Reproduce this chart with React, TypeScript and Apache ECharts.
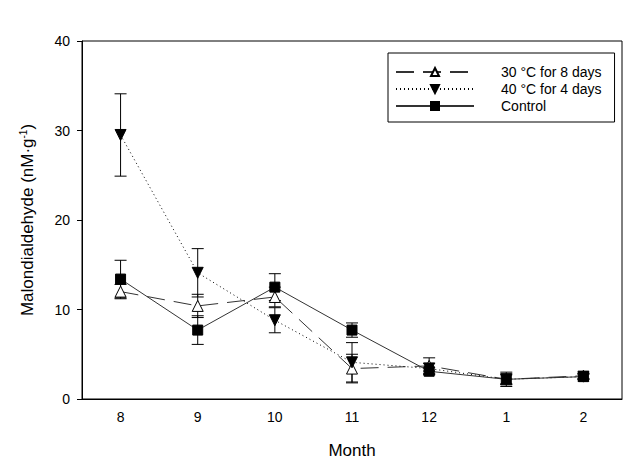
import React, { useEffect, useRef } from "react";
import * as echarts from "echarts";

const months = ["8", "9", "10", "11", "12", "1", "2"];
const t30 = [12.0, 10.4, 11.4, 3.4, 3.7, 2.2, 2.6];
const t30Err = [0.8, 1.3, 1.1, 1.6, 0.9, 0.6, 0.3];
const t40 = [29.5, 14.1, 8.8, 4.1, 3.4, 2.2, 2.5];
const t40Err = [4.6, 2.7, 1.4, 2.2, 0.6, 0.5, 0.3];
const control = [13.4, 7.7, 12.5, 7.7, 3.1, 2.2, 2.5];
const controlErr = [2.1, 1.6, 1.5, 0.8, 0.4, 0.8, 0.3];
const seriesNames = ["30 °C for 8 days", "40 °C for 4 days", "Control"];

const FONT = "Liberation Sans, Arial, sans-serif";

function errSeries(vals: number[], errs: number[]) {
  return {
    type: "custom",
    silent: true,
    z: 1,
    data: vals.map((v, i) => [i, v, errs[i]]),
    renderItem: (params: any, api: any) => {
      const x = api.value(0);
      const v = api.value(1);
      const e = api.value(2);
      const hi = api.coord([x, v + e]);
      const lo = api.coord([x, v - e]);
      const w = 6;
      const style = { stroke: "#000", lineWidth: 1 };
      return {
        type: "group",
        children: [
          { type: "line", shape: { x1: hi[0], y1: hi[1], x2: lo[0], y2: lo[1] }, style },
          { type: "line", shape: { x1: hi[0] - w, y1: hi[1], x2: hi[0] + w, y2: hi[1] }, style },
          { type: "line", shape: { x1: lo[0] - w, y1: lo[1], x2: lo[0] + w, y2: lo[1] }, style },
        ],
      };
    },
  };
}

export default function App() {
  const ref = useRef<HTMLDivElement>(null);
  useEffect(() => {
    const chart = echarts.init(ref.current!, null, { renderer: "svg" });
    chart.setOption({
      animation: false,
      textStyle: { fontFamily: FONT },
      grid: {
        left: 82,
        right: 18,
        top: 41,
        bottom: 74,
        show: true,
        borderColor: "#000",
        borderWidth: 1,
        backgroundColor: "transparent",
      },
      legend: {
        orient: "vertical",
        left: 388,
        top: 53,
        padding: [12, 13, 9, 7],
        borderColor: "#000",
        borderWidth: 1,
        itemWidth: 78,
        itemHeight: 10,
        itemGap: 3,
        data: seriesNames,
        formatter: (n: string) => "{t|" + n + "}",
        textStyle: {
          fontFamily: FONT,
          fontSize: 14,
          color: "#000",
          rich: { t: { fontFamily: FONT, fontSize: 14, color: "#000", lineHeight: 15, padding: [0, 0, 0, 22] } },
        },
      },
      xAxis: {
        type: "category",
        data: months,
        name: "Month",
        nameLocation: "middle",
        nameGap: 43,
        nameTextStyle: { fontFamily: FONT, fontSize: 17, color: "#000" },
        axisLine: { lineStyle: { color: "#000" } },
        axisTick: { alignWithLabel: true, length: 6, lineStyle: { color: "#000" } },
        axisLabel: { fontFamily: FONT, fontSize: 14, color: "#000", margin: 11 },
        splitLine: { show: false },
      },
      yAxis: {
        type: "value",
        min: 0,
        max: 40,
        interval: 10,
        name: "{m|Malondialdehyde (nM·g}{s|-1}{m|)}",
        nameLocation: "middle",
        nameGap: 45,
        nameRotate: 90,
        nameTextStyle: {
          rich: {
            m: { fontFamily: FONT, fontSize: 17, color: "#000" },
            s: { fontFamily: FONT, fontSize: 10, color: "#000", padding: [0, 0, 9, 0] },
          },
        },
        axisLine: { show: true, lineStyle: { color: "#000" } },
        axisTick: { show: true, length: 5, lineStyle: { color: "#000" } },
        axisLabel: { fontFamily: FONT, fontSize: 14, color: "#000", margin: 12 },
        splitLine: { show: false },
      },
      series: [
        errSeries(t30, t30Err),
        errSeries(t40, t40Err),
        errSeries(control, controlErr),
        {
          name: seriesNames[0],
          type: "line",
          data: t30,
          z: 3,
          symbol: "triangle",
          symbolSize: 11,
          lineStyle: { color: "#333", width: 1, type: [18, 9] },
          itemStyle: { color: "#fff", borderColor: "#000", borderWidth: 1 },
        },
        {
          name: seriesNames[1],
          type: "line",
          data: t40,
          z: 3,
          symbol: "triangle",
          symbolRotate: 180,
          symbolSize: 11,
          lineStyle: { color: "#000", width: 1, type: [1, 3] },
          itemStyle: { color: "#000", borderColor: "#000", borderWidth: 1 },
        },
        {
          name: seriesNames[2],
          type: "line",
          data: control,
          z: 3,
          symbol: "rect",
          symbolSize: 10,
          lineStyle: { color: "#333", width: 1 },
          itemStyle: { color: "#000", borderColor: "#000", borderWidth: 1 },
        },
      ],
    });
    return () => chart.dispose();
  }, []);
  return <div ref={ref} style={{ width: 640, height: 473, position: "absolute", left: 0, top: 0 }} />;
}
